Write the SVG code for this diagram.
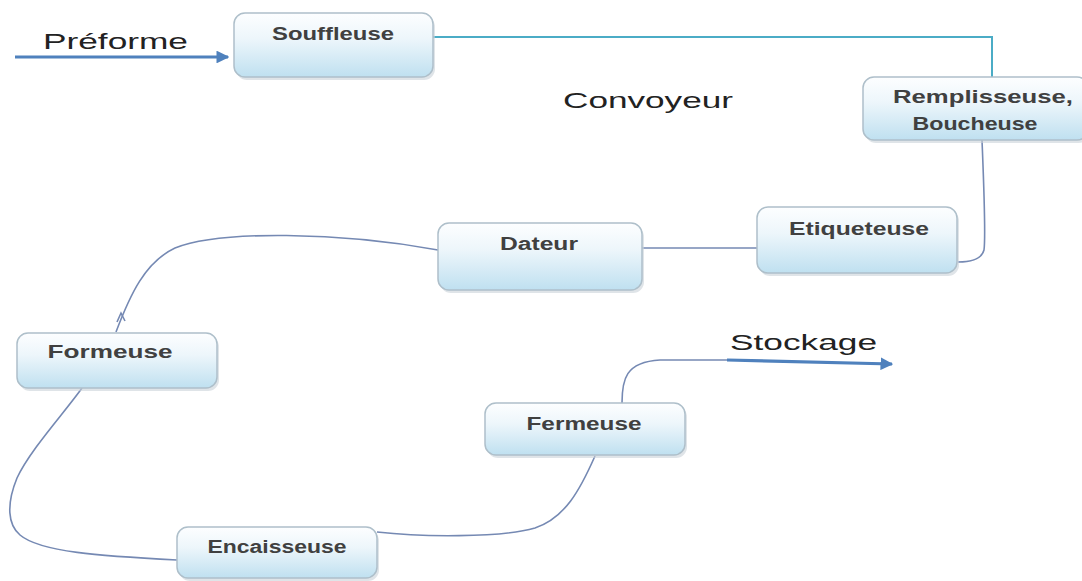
<svg xmlns="http://www.w3.org/2000/svg" width="1082" height="581" viewBox="0 0 1082 581">
<defs>
<linearGradient id="nodeFill" x1="0" y1="0" x2="0" y2="1">
<stop offset="0" stop-color="#fdfeff"/>
<stop offset="0.4" stop-color="#edf6fb"/>
<stop offset="1" stop-color="#bfe0f0"/>
</linearGradient>
<marker id="arrowBlue" viewBox="0 0 10 10" refX="9" refY="5" markerWidth="4" markerHeight="4" orient="auto" markerUnits="strokeWidth">
<path d="M0,0 L10,5 L0,10 z" fill="#4f81bd"/>
</marker>
<style>
.box{fill:url(#nodeFill);stroke:#aebfca;stroke-width:1.5}
.shadow{fill:#c9d2d8;opacity:0.6}
.ntext{font-family:"Liberation Sans",Arial,sans-serif;font-weight:bold;font-size:18px;fill:#404040;text-anchor:middle}
.label{font-family:"Liberation Sans",Arial,sans-serif;font-size:22px;fill:#222}
.thin{fill:none;stroke:#7589b3;stroke-width:1.6}
.teal{fill:none;stroke:#4bacc6;stroke-width:2}
.thick{fill:none;stroke:#4f81bd;stroke-width:3.2}
</style>
</defs>
<rect width="1082" height="581" fill="#ffffff"/>

<g id="connectors">
<path class="thick" d="M15,57 L228,57" marker-end="url(#arrowBlue)"/>
<path class="teal" d="M433,37 H992 V77"/>
<path class="thin" d="M982,140 C984,190 986,235 984,250 Q981,262 958,262"/>
<path class="thin" d="M757,248 H642"/>
<path class="thin" d="M438,250 C340,232 220,230 175,248 C145,262 130,295 116,332"/>
<path d="M117,322 L121,313 L125,321" fill="none" stroke="#7589b3" stroke-width="1.6"/>
<path class="thin" d="M82,388 C65,412 30,450 17,478 C6,505 8,525 20,535 C40,552 100,556 177,560"/>
<path class="thin" d="M377,532 C420,537 500,538 535,528 C565,518 580,490 595,456"/>
<path class="thin" d="M622,403 C622,380 625,362 660,360 L727,360"/>
<path class="thick" d="M727,360 L892,364" marker-end="url(#arrowBlue)"/>
</g>

<g id="labels">
<text class="label" x="43" y="49" textLength="145" lengthAdjust="spacingAndGlyphs">Préforme</text>
<text class="label" x="563" y="108" font-size="23" textLength="170" lengthAdjust="spacingAndGlyphs">Convoyeur</text>
<text class="label" x="730" y="350" textLength="147" lengthAdjust="spacingAndGlyphs">Stockage</text>
</g>

<g id="souffleuse">
<rect class="shadow" x="236" y="16" width="199" height="64" rx="11"/>
<rect class="box" x="234" y="13" width="199" height="64" rx="11"/>
<text class="ntext" x="333" y="40" textLength="122" lengthAdjust="spacingAndGlyphs">Souffleuse</text>
</g>

<g id="remplisseuse">
<rect class="shadow" x="865" y="80" width="225" height="63" rx="11"/>
<rect class="box" x="863" y="77" width="225" height="63" rx="11"/>
<text class="ntext" x="983" y="103" textLength="180" lengthAdjust="spacingAndGlyphs">Remplisseuse,</text>
<text class="ntext" x="975" y="130" textLength="125" lengthAdjust="spacingAndGlyphs">Boucheuse</text>
</g>

<g id="etiqueteuse">
<rect class="shadow" x="759" y="210" width="200" height="66" rx="11"/>
<rect class="box" x="757" y="207" width="200" height="66" rx="11"/>
<text class="ntext" x="859" y="235" textLength="140" lengthAdjust="spacingAndGlyphs">Etiqueteuse</text>
</g>

<g id="dateur">
<rect class="shadow" x="440" y="226" width="204" height="67" rx="11"/>
<rect class="box" x="438" y="223" width="204" height="67" rx="11"/>
<text class="ntext" x="539" y="250" textLength="78" lengthAdjust="spacingAndGlyphs">Dateur</text>
</g>

<g id="formeuse">
<rect class="shadow" x="19" y="336" width="200" height="55" rx="11"/>
<rect class="box" x="17" y="333" width="200" height="55" rx="11"/>
<text class="ntext" x="110" y="358" textLength="125" lengthAdjust="spacingAndGlyphs">Formeuse</text>
</g>

<g id="fermeuse">
<rect class="shadow" x="487" y="406" width="200" height="52" rx="11"/>
<rect class="box" x="485" y="403" width="200" height="52" rx="11"/>
<text class="ntext" x="584" y="430" textLength="115" lengthAdjust="spacingAndGlyphs">Fermeuse</text>
</g>

<g id="encaisseuse">
<rect class="shadow" x="179" y="530" width="200" height="51" rx="11"/>
<rect class="box" x="177" y="527" width="200" height="51" rx="11"/>
<text class="ntext" x="277" y="553" textLength="139" lengthAdjust="spacingAndGlyphs">Encaisseuse</text>
</g>
</svg>
